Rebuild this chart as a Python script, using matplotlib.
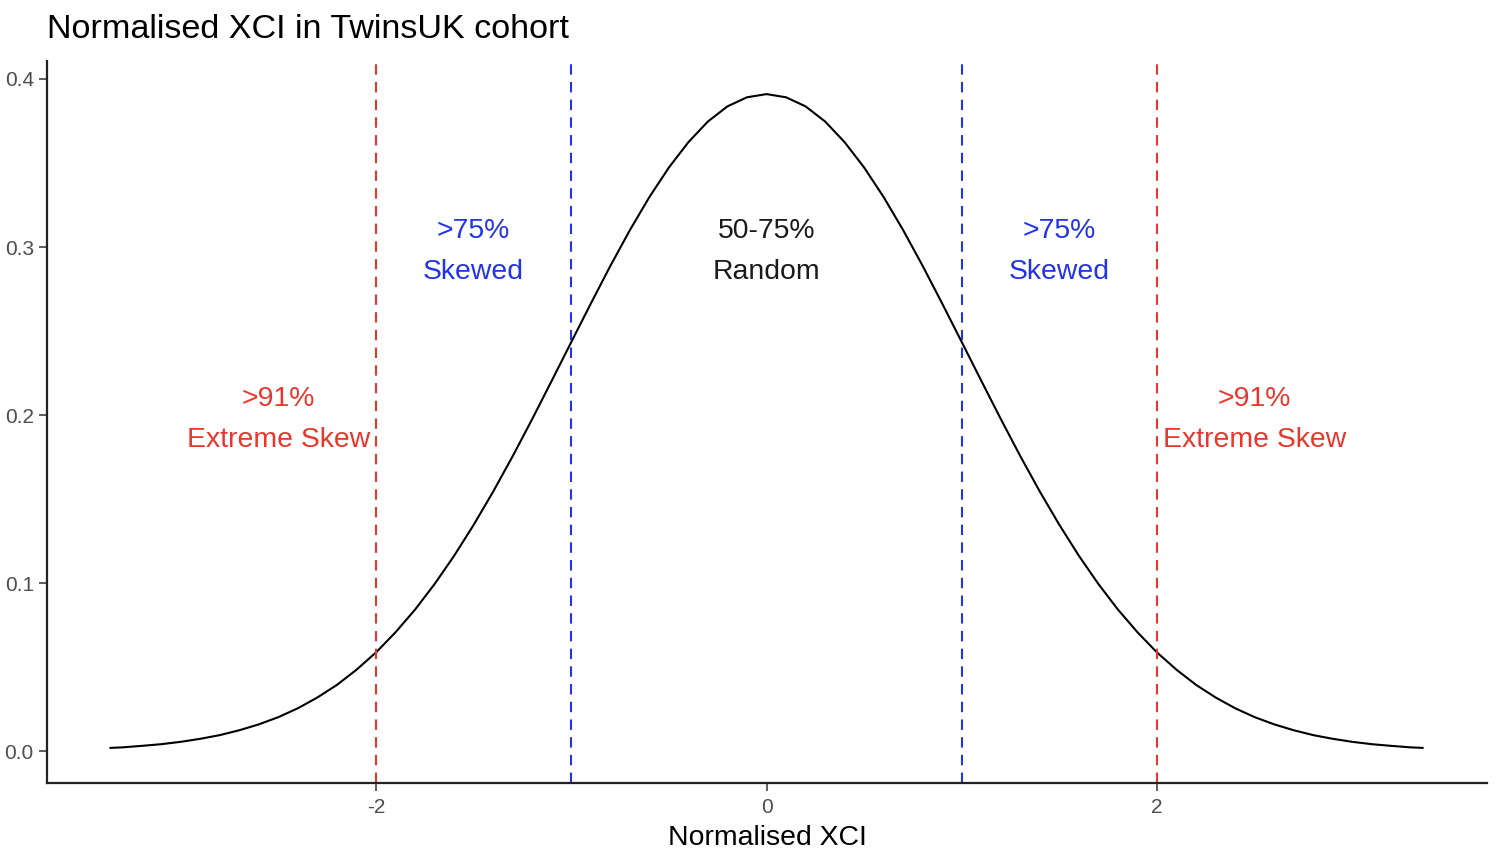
import numpy as np
import matplotlib
matplotlib.use("Agg")
import matplotlib.pyplot as plt

plt.rcParams['font.family'] = ['Liberation Sans', 'DejaVu Sans']
plt.rcParams['axes.unicode_minus'] = False

# density curve
xci = [-3.36] + list(np.round(np.arange(-3.3, 3.31, 0.1), 1)) + [3.36]
density = [0.0019, 0.0022, 0.0031, 0.0041, 0.0055, 0.0073, 0.0095, 0.0124, 0.0159, 0.0202,
           0.0255, 0.0319, 0.0394, 0.0484, 0.0587, 0.0707, 0.0842, 0.0994, 0.1162, 0.1346,
           0.1544, 0.1755, 0.1976, 0.2204, 0.2434, 0.2663, 0.2887, 0.3100, 0.3297, 0.3473,
           0.3624, 0.3747, 0.3837, 0.3891, 0.3910, 0.3891, 0.3837, 0.3747, 0.3624, 0.3473,
           0.3297, 0.3100, 0.2887, 0.2663, 0.2434, 0.2204, 0.1976, 0.1755, 0.1544, 0.1346,
           0.1162, 0.0994, 0.0842, 0.0707, 0.0587, 0.0484, 0.0394, 0.0319, 0.0255, 0.0202,
           0.0159, 0.0124, 0.0095, 0.0073, 0.0055, 0.0041, 0.0031, 0.0022, 0.0019]

cutoffs = [-2, -1, 1, 2]
cutoff_colors = ['#E8372C', '#2233E8', '#2233E8', '#E8372C']

label_x = [-2.5, -1.5, 0, 1.5, 2.5]
label_y = [0.1973, 0.2973, 0.2973, 0.2973, 0.1973]
label_txt = ['>91%\nExtreme Skew', '>75%\nSkewed', '50-75%\nRandom',
             '>75%\nSkewed', '>91%\nExtreme Skew']
label_col = ['#E8372C', '#2233E8', '#1a1a1a', '#2233E8', '#E8372C']

fig = plt.figure(figsize=(15, 8.59), dpi=100)
ax = fig.add_axes([47 / 1500, 1 - 783 / 859, 1440 / 1500, 722 / 859])

ax.plot(xci, density, color='black', lw=1.5, solid_joinstyle='round')
for c, col in zip(cutoffs, cutoff_colors):
    ax.axvline(c, color=col, lw=1.5, linestyle=(0, (5, 3.5)))

for x, y, t, col in zip(label_x, label_y, label_txt, label_col):
    ax.text(x, y, t, color=col, fontsize=20.4, ha='center', va='center',
            linespacing=1.74)

ax.set_xlim(-3.685, 3.69)
ax.set_ylim(-0.019, 0.4107)
ax.set_xticks([-2, 0, 2])
ax.set_yticks([0.0, 0.1, 0.2, 0.3, 0.4])
ax.set_yticklabels(['0.0', '0.1', '0.2', '0.3', '0.4'])
ax.tick_params(colors='#333333', labelcolor='#4D4D4D', labelsize=15,
               length=5.5, width=1.1, pad=4)
ax.tick_params(axis='x', pad=5)

for s in ['top', 'right']:
    ax.spines[s].set_visible(False)
for s in ['left', 'bottom']:
    ax.spines[s].set_linewidth(1.6)
    ax.spines[s].set_color('#222222')

ax.set_xlabel('Normalised XCI', fontsize=20.4, labelpad=6)
fig.text(47 / 1500, 1 - 38 / 859, 'Normalised XCI in TwinsUK cohort',
         fontsize=24.6, ha='left', va='baseline')

fig.savefig('out.png', dpi=100)
